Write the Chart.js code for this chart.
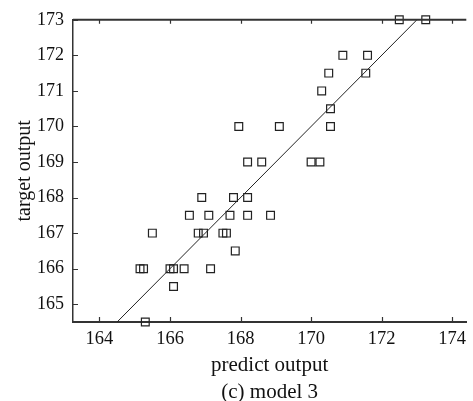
<!DOCTYPE html>
<html>
<head>
<meta charset="utf-8">
<script src="https://cdn.jsdelivr.net/npm/chart.js@4/dist/chart.umd.min.js"></script>
<style>
  body { margin: 0; background: #fff; }
  canvas { display: block; }
</style>
</head>
<body>
<canvas id="myChart" width="473" height="401"></canvas>
<script>
// predicted vs target values
const predX = [
    172.5, 173.25,
    170.9, 171.6,
    170.5, 171.55,
    170.3,
    170.55,
    167.95, 169.1, 170.55,
    168.2, 168.6, 170.0, 170.25,
    166.9, 167.8, 168.2,
    166.55, 167.1, 167.7, 168.2, 168.85,
    165.5, 166.8, 166.95, 167.5, 167.6,
    167.85,
    165.15, 165.25, 166.0, 166.1, 166.4, 167.15,
    166.1,
    165.3
];
const targetY = [
    173, 173,
    172, 172,
    171.5, 171.5,
    171,
    170.5,
    170, 170, 170,
    169, 169, 169, 169,
    168, 168, 168,
    167.5, 167.5, 167.5, 167.5, 167.5,
    167, 167, 167, 167, 167,
    166.5,
    166, 166, 166, 166, 166, 166,
    165.5,
    164.5
];
// ideal line y = x
const idealLine = [164.5, 173];
const xTicks = [164, 166, 168, 170, 172, 174];
const yTicks = [165, 166, 167, 168, 169, 170, 171, 172, 173];

const serif = "'Liberation Serif', 'Times New Roman', serif";
const axisColor = '#333';

// inward tick marks and top frame line
const innerTicks = {
    id: 'innerTicks',
    afterDraw(chart) {
        const ctx = chart.ctx;
        const {left, right, top, bottom} = chart.chartArea;
        const xs = chart.scales.x, ys = chart.scales.y;
        ctx.save();
        ctx.strokeStyle = axisColor;
        ctx.lineWidth = 2;
        ctx.beginPath();
        ctx.moveTo(left, top);
        ctx.lineTo(right, top);
        ctx.stroke();
        ctx.lineWidth = 1.2;
        ctx.beginPath();
        xTicks.forEach(v => {
            const px = Math.round(xs.getPixelForValue(v)) + 0.5;
            ctx.moveTo(px, bottom);
            ctx.lineTo(px, bottom - 5);
            ctx.moveTo(px, top);
            ctx.lineTo(px, top + 4);
        });
        yTicks.forEach(v => {
            const py = Math.round(ys.getPixelForValue(v)) + 0.5;
            ctx.moveTo(left, py);
            ctx.lineTo(left + 5, py);
        });
        ctx.stroke();
        ctx.restore();
    }
};

new Chart(document.querySelector('#myChart'), {
    data: {
        datasets: [
            {
                type: 'line',
                data: idealLine.map(v => ({x: v, y: v})),
                borderColor: '#222',
                borderWidth: 1,
                pointRadius: 0,
                fill: false,
                clip: false
            },
            {
                type: 'scatter',
                data: predX.map((x, i) => ({x: x, y: targetY[i]})),
                pointStyle: 'rect',
                pointRadius: 5.5,
                borderColor: '#222',
                borderWidth: 1.2,
                backgroundColor: 'rgba(0,0,0,0)',
                clip: false
            }
        ]
    },
    options: {
        responsive: false,
        animation: false,
        devicePixelRatio: 1,
        layout: {
            padding: {top: 15, right: 0, left: 0, bottom: 0}
        },
        plugins: {
            legend: {display: false},
            tooltip: {enabled: false}
        },
        scales: {
            x: {
                type: 'linear',
                min: 163.25,
                max: 174.4,
                afterBuildTicks: (scale) => {
                    scale.ticks = xTicks.map(v => ({value: v}));
                },
                afterFit: (scale) => {
                    scale.height = 79;
                },
                grid: {display: false, drawTicks: false},
                border: {display: true, color: axisColor, width: 2},
                ticks: {
                    color: '#111',
                    padding: 6,
                    maxRotation: 0,
                    font: {family: serif, size: 18.5}
                },
                title: {
                    display: true,
                    text: ['predict output', '(c) model 3'],
                    color: '#111',
                    padding: {top: 0, bottom: -5},
                    font: {family: serif, size: 21, lineHeight: 1.3}
                }
            },
            y: {
                type: 'linear',
                min: 164.5,
                max: 173,
                afterBuildTicks: (scale) => {
                    scale.ticks = yTicks.map(v => ({value: v}));
                },
                afterFit: (scale) => {
                    scale.width = 73;
                },
                grid: {display: false, drawTicks: false},
                border: {display: true, color: axisColor, width: 1.5},
                ticks: {
                    color: '#111',
                    padding: 9,
                    font: {family: serif, size: 18}
                },
                title: {
                    display: true,
                    text: 'target output',
                    color: '#111',
                    padding: {top: 12, bottom: 0},
                    font: {family: serif, size: 20, lineHeight: 1.3}
                }
            }
        }
    },
    plugins: [innerTicks]
});
</script>
</body>
</html>
